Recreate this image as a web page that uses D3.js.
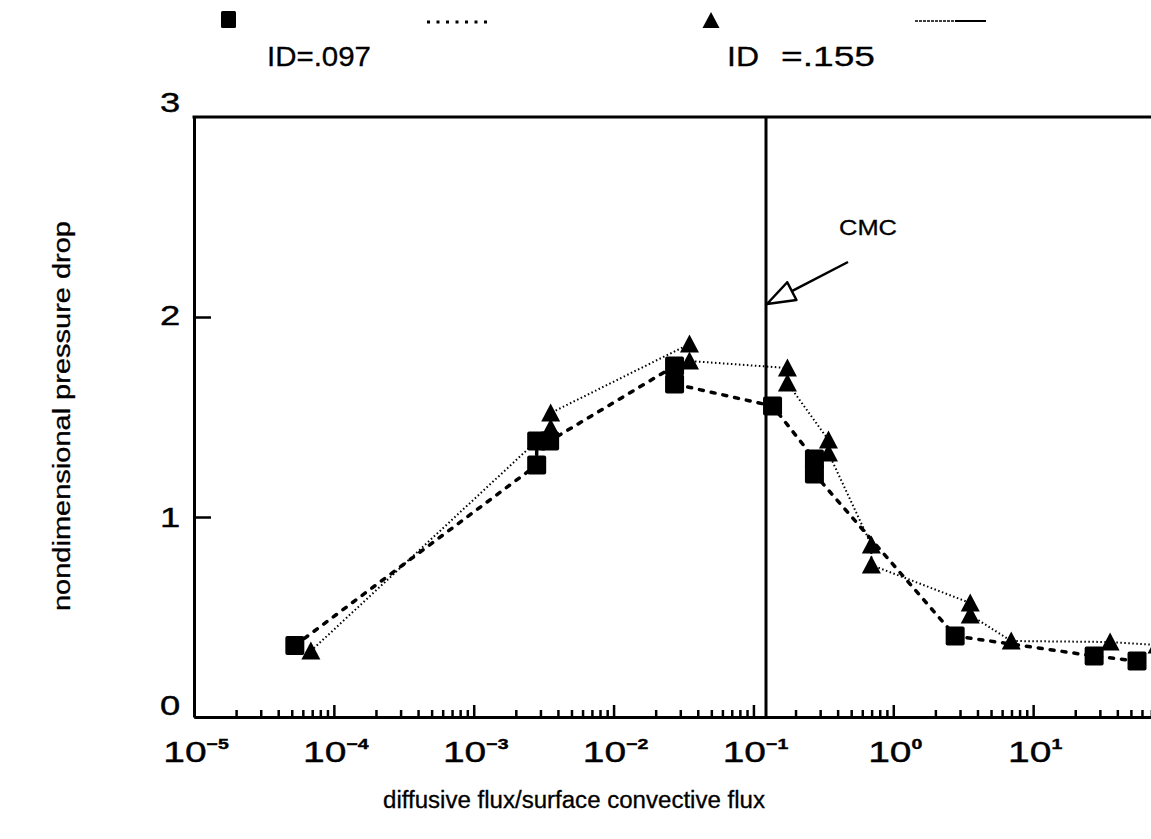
<!DOCTYPE html>
<html>
<head>
<meta charset="utf-8">
<script src="https://cdn.jsdelivr.net/npm/d3@7"></script>
<style>
  html, body { margin: 0; padding: 0; background: #fff; }
  svg { display: block; }
  text { font-family: "Liberation Sans", "DejaVu Sans", sans-serif; fill: #000; }
</style>
</head>
<body>
<svg id="chart" width="1151" height="839"></svg>
<script>
// ---- data ----
const squareX = [5.26e-5, 2.82e-3, 2.82e-3, 3.49e-3, 0.0273, 0.0273, 0.137, 0.273, 0.273, 2.77, 27.3, 55.3];
const squareY = [0.357, 1.26, 1.38, 1.38, 1.755, 1.665, 1.555, 1.29, 1.215, 0.405, 0.305, 0.28];
const triX = [6.85e-5, 3.55e-3, 3.55e-3, 0.0349, 0.0349, 0.175, 0.175, 0.344, 0.344, 0.697, 0.697, 3.55, 3.55, 6.97, 35.5, 76.9];
const triY = [0.33, 1.445, 1.52, 1.865, 1.78, 1.745, 1.67, 1.385, 1.32, 0.86, 0.76, 0.57, 0.51, 0.38, 0.375, 0.36];
const cmcX = 0.123;
const decadeExps = [-5, -4, -3, -2, -1, 0, 1];
const yTickLabels = [0, 1, 2, 3];
const legendLabels = ["ID=.097", "ID =.155"];
const xTitle = "diffusive flux/surface convective flux";
const yTitle = "nondimensional pressure drop";

// ---- scales ----
const svg = d3.select("#chart");
const x = d3.scaleLog().domain([1e-5, 1e2]).range([194, 1173]);
const y = d3.scaleLinear().domain([0, 3]).range([717, 117]);

const majors = d3.range(-5, 3).map(e => Math.pow(10, e));
const minors = [];
for (let e = -5; e < 2; e++) for (let k = 2; k <= 9; k++) minors.push(k * Math.pow(10, e));

// ---- axes ----
const xMinor = svg.append("g").attr("transform", `translate(0,${y(0)})`)
  .call(d3.axisBottom(x).tickValues(minors).tickSize(-7).tickSizeOuter(0).tickFormat(""));
const xMajor = svg.append("g").attr("transform", `translate(0,${y(0)})`)
  .call(d3.axisBottom(x).tickValues(majors).tickSize(-12).tickSizeOuter(0).tickFormat(""));
[xMinor, xMajor].forEach(g => {
  g.select(".domain").attr("stroke", "#000").attr("stroke-width", 3);
  g.selectAll(".tick line").attr("stroke", "#000").attr("stroke-width", 2.5);
});

const yAx = svg.append("g").attr("transform", `translate(${x(1e-5)},0)`)
  .call(d3.axisLeft(y).tickValues([1, 2]).tickSize(-17).tickSizeOuter(0).tickFormat(""));
yAx.select(".domain").attr("stroke", "#000").attr("stroke-width", 3);
yAx.selectAll(".tick line").attr("stroke", "#000").attr("stroke-width", 2.5);

svg.append("line").attr("x1", x(1e-5) - 1.5).attr("x2", x(1e2)).attr("y1", y(3)).attr("y2", y(3))
  .attr("stroke", "#000").attr("stroke-width", 3);

svg.append("line").attr("x1", x(cmcX)).attr("x2", x(cmcX)).attr("y1", y(3)).attr("y2", y(0))
  .attr("stroke", "#000").attr("stroke-width", 3);

// x tick labels
decadeExps.forEach(e => {
  const t = svg.append("text")
    .attr("transform", `translate(${x(Math.pow(10, e)) + 2},762) scale(1.3,1)`)
    .attr("text-anchor", "middle")
    .style("font-size", "30px")
    .style("stroke", "#000").style("stroke-width", 0.4);
  t.append("tspan").text("10");
  t.append("tspan").attr("dy", -13).style("font-size", "15px").style("font-weight", "bold")
    .text(e < 0 ? "\u2212" + Math.abs(e) : String(e));
});

// y tick labels
const yLabelOffset = {0: -12, 1: 0, 2: -2, 3: -15};
yTickLabels.forEach(v => {
  svg.append("text")
    .attr("transform", `translate(170,${y(v) + yLabelOffset[v] + 10}) scale(1.3,1)`)
    .attr("text-anchor", "middle")
    .style("font-size", "28px")
    .style("stroke", "#000").style("stroke-width", 0.4)
    .text(v);
});

// axis titles
svg.append("text").attr("x", 574).attr("y", 808).attr("text-anchor", "middle")
  .attr("textLength", 382).attr("lengthAdjust", "spacingAndGlyphs")
  .style("font-size", "23px").style("stroke", "#000").style("stroke-width", 0.3).text(xTitle);
svg.append("text").attr("transform", "translate(70,416) rotate(-90)").attr("text-anchor", "middle")
  .attr("textLength", 390).attr("lengthAdjust", "spacingAndGlyphs")
  .style("font-size", "23px").style("stroke", "#000").style("stroke-width", 0.3).text(yTitle);

// ---- series lines ----
const sqData = squareX.map((d, i) => [d, squareY[i]]);
const triData = triX.map((d, i) => [d, triY[i]]);
const line = d3.line().x(d => x(d[0])).y(d => y(d[1]));

svg.append("path").datum(triData).attr("d", line).attr("fill", "none")
  .attr("stroke", "#000").attr("stroke-width", 2).attr("stroke-dasharray", "1.5,2.5");
svg.append("path").datum(sqData).attr("d", line).attr("fill", "none")
  .attr("stroke", "#000").attr("stroke-width", 3.5).attr("stroke-dasharray", "4,8")
  .attr("stroke-linecap", "round");

// ---- markers ----
const triPath = "M0,-9.5L9.5,8.5L-9.5,8.5Z";
svg.append("g").selectAll("rect").data(sqData).join("rect")
  .attr("x", d => x(d[0]) - 9.5).attr("y", d => y(d[1]) - 9.5)
  .attr("width", 19).attr("height", 19).attr("rx", 2).attr("fill", "#000");
svg.append("g").selectAll("path").data(triData).join("path")
  .attr("transform", d => `translate(${x(d[0])},${y(d[1])})`)
  .attr("d", triPath).attr("fill", "#000");

// ---- CMC annotation ----
svg.append("text").attr("x", 868).attr("y", 235).attr("text-anchor", "middle")
  .attr("textLength", 58).attr("lengthAdjust", "spacingAndGlyphs")
  .style("font-size", "22px").style("stroke", "#000").style("stroke-width", 0.3).text("CMC");
const tip = [x(cmcX) + 1, 304], tail = [848, 262];
const dx = tail[0] - tip[0], dy = tail[1] - tip[1];
const len = Math.hypot(dx, dy), ux = dx / len, uy = dy / len;
const headLen = 28, headHalf = 10;
const base = [tip[0] + ux * headLen, tip[1] + uy * headLen];
svg.append("line").attr("x1", base[0]).attr("y1", base[1]).attr("x2", tail[0]).attr("y2", tail[1])
  .attr("stroke", "#000").attr("stroke-width", 2.5);
svg.append("path")
  .attr("d", `M${tip[0]},${tip[1]}L${base[0] - uy * headHalf},${base[1] + ux * headHalf}L${base[0] + uy * headHalf},${base[1] - ux * headHalf}Z`)
  .attr("fill", "#fff").attr("stroke", "#000").attr("stroke-width", 2.5).attr("stroke-linejoin", "round");

// ---- legend ----
svg.append("rect").attr("x", 221).attr("y", 11).attr("width", 15).attr("height", 17).attr("rx", 1.5).attr("fill", "#000");
svg.append("line").attr("x1", 427).attr("x2", 490).attr("y1", 22).attr("y2", 22)
  .attr("stroke", "#000").attr("stroke-width", 3).attr("stroke-dasharray", "3,6.5");
svg.append("path").attr("transform", "translate(711,20)").attr("d", "M0,-8L8.5,8L-8.5,8Z").attr("fill", "#000");
svg.append("line").attr("x1", 915).attr("x2", 955).attr("y1", 21).attr("y2", 21)
  .attr("stroke", "#000").attr("stroke-width", 1.5).attr("stroke-dasharray", "3,1");
svg.append("line").attr("x1", 955).attr("x2", 986).attr("y1", 21).attr("y2", 21)
  .attr("stroke", "#000").attr("stroke-width", 2);
svg.append("text").attr("x", 267).attr("y", 66).attr("textLength", 104).attr("lengthAdjust", "spacingAndGlyphs")
  .style("font-size", "28px").style("stroke", "#000").style("stroke-width", 0.3).text(legendLabels[0]);
const parts = legendLabels[1].split(" ");
svg.append("text").attr("x", 727).attr("y", 66).attr("textLength", 32).attr("lengthAdjust", "spacingAndGlyphs")
  .style("font-size", "28px").style("stroke", "#000").style("stroke-width", 0.3).text(parts[0]);
svg.append("text").attr("x", 781).attr("y", 66).attr("textLength", 94).attr("lengthAdjust", "spacingAndGlyphs")
  .style("font-size", "28px").style("stroke", "#000").style("stroke-width", 0.3).text(parts[1]);
</script>
</body>
</html>
